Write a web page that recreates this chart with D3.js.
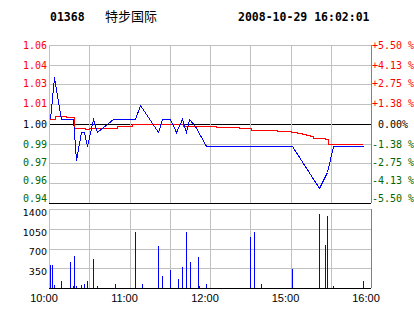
<!DOCTYPE html>
<html>
<head>
<meta charset="utf-8">
<script src="https://cdn.jsdelivr.net/npm/d3@7"></script>
<style>
  body { margin: 0; background: #fff; }
  svg text { white-space: pre; }
</style>
</head>
<body>
<div id="chartarea"></div>
<script>
// header
const stockCode = '01368';
const stockName = '特步国际';
const stamp = '2008-10-29 16:02:01';

// axes
const prevClose = 1.00;
const priceLabels = ['1.06', '1.04', '1.03', '1.01', '1.00', '0.99', '0.97', '0.96', '0.94'];
const pctLabels = ['+5.50 %', '+4.13 %', '+2.75 %', '+1.38 %', ' 0.00%', '-1.38 %', '-2.75 %', '-4.13 %', '-5.50 %'];
const volTicks = [1400, 1050, 700, 350];
const timeTicks = [0, 60, 120, 180, 240];
const timeLabels = ['10:00', '11:00', '12:00', '15:00', '16:00'];

// price line (minutes from 10:00, trading time)
const priceMin = [1, 4, 9, 18, 20, 24, 26, 28, 33, 36, 48, 64, 68, 81, 84, 90, 95, 99, 102, 104, 109, 117, 181, 201, 207, 212, 234];
const priceVal = [1.0033, 1.0325, 1.0035, 1.0035, 0.975, 0.9946, 0.9946, 0.9847, 1.0033, 0.9944, 1.0033, 1.0033, 1.013, 0.9944, 1.0033, 1.0033, 0.9944, 1.0033, 0.9944, 1.0033, 0.9988, 0.9847, 0.9847, 0.9553, 0.9668, 0.9847, 0.9847];

// average price line
const avgMin = [1, 5, 13, 19, 27, 30, 51, 62, 100, 125, 142, 151, 170, 181, 185, 189, 192, 195, 197, 202, 206, 208, 234];
const avgVal = [1.0033, 1.0056, 1.0049, 0.997, 0.9963, 0.9974, 0.9984, 0.9997, 0.9988, 0.9979, 0.997, 0.9956, 0.9949, 0.9942, 0.9935, 0.9928, 0.9921, 0.9913, 0.9905, 0.99, 0.9894, 0.9861, 0.9861];

// volume bars
const volMin = [1, 2, 4, 9, 16, 18, 19, 20, 24, 26, 28, 33, 36, 49, 64, 69, 81, 84, 90, 96, 99, 102, 105, 111, 112, 117, 150, 153, 158, 181, 201, 206, 207, 212, 234];
const volVal = [413, 413, 58, 117, 466, 41, 572, 41, 58, 76, 129, 519, 41, 76, 998, 76, 750, 218, 324, 165, 378, 998, 466, 555, 41, 76, 909, 998, 76, 342, 1318, 767, 1283, 41, 129];

const W = 414, H = 314;
const left = 49, right = 371;
const mainTop = 45, mainBottom = 203;
const volTop = 209, volBottom = 288;
const red = '#ff0000', blue = '#0000ff', green = '#006600', grid = '#c0c0c0';
// labels drift upward towards the bottom of the price panel
const labelNudge = [0, 0, -1, -1.5, 0, 0, -1, -3, -5.5];

const svg = d3.select('#chartarea')
  .append('svg')
    .attr('width', W)
    .attr('height', H)
    .style('display', 'block');

svg.append('rect').attr('width', W).attr('height', H).attr('fill', '#fff');

const x = d3.scaleLinear().domain([0, 240]).range([left, right]);
const y = d3.scaleLinear().domain([prevClose * 0.945, prevClose * 1.055]).range([mainBottom, mainTop]);
const yv = d3.scaleLinear().domain([0, 1400]).range([volBottom, volTop]);

const px = v => Math.round(v) + 0.5;
const gridTimes = d3.range(0, 241, 30);
const levels = d3.range(4, -5, -1).map(k => prevClose * (1 + k * 0.01375));

// header
const head = svg.append('g').attr('font-family', 'DejaVu Sans Mono').attr('font-weight', 'bold').attr('font-size', '11.5px');
head.append('text').attr('x', 50).attr('y', 21).text(stockCode);
head.append('text').attr('x', 238).attr('y', 21).text(stamp);
svg.append('text')
  .attr('x', 105).attr('y', 21)
  .attr('font-family', 'Noto Sans CJK SC').attr('font-size', '13px')
  .text(stockName);

// main grid
const g = svg.append('g').attr('shape-rendering', 'crispEdges');
g.selectAll('.hgrid')
  .data(levels)
  .enter().append('line')
    .attr('x1', left).attr('x2', right)
    .attr('y1', d => px(y(d))).attr('y2', d => px(y(d)))
    .attr('stroke', (d, i) => i === 4 || i === 8 ? '#000' : grid);
g.selectAll('.vgrid')
  .data(gridTimes)
  .enter().append('line')
    .attr('x1', d => px(x(d))).attr('x2', d => px(x(d)))
    .attr('y1', mainTop).attr('y2', mainBottom)
    .attr('stroke', (d, i) => i === 8 ? '#808080' : grid);

// volume grid
g.selectAll('.vhgrid')
  .data([1400, 1050, 700, 350, 0])
  .enter().append('line')
    .attr('x1', left).attr('x2', right)
    .attr('y1', d => px(yv(d))).attr('y2', d => px(yv(d)))
    .attr('stroke', d => d === 0 ? '#000' : grid);
g.selectAll('.vvgrid')
  .data(gridTimes)
  .enter().append('line')
    .attr('x1', d => px(x(d))).attr('x2', d => px(x(d)))
    .attr('y1', volTop).attr('y2', volBottom)
    .attr('stroke', (d, i) => i === 8 ? '#808080' : grid);

// price labels
const lab = svg.append('g').attr('font-family', 'DejaVu Sans Mono').attr('font-size', '10px');
lab.selectAll('.pl')
  .data(priceLabels)
  .enter().append('text')
    .attr('x', 47)
    .attr('y', (d, i) => px(y(levels[i])) + labelNudge[i])
    .attr('dy', '0.36em')
    .attr('text-anchor', 'end')
    .attr('fill', (d, i) => i < 4 ? red : i === 4 ? '#000' : green)
    .text(d => d);
lab.selectAll('.rl')
  .data(pctLabels)
  .enter().append('text')
    .attr('x', 372)
    .attr('y', (d, i) => px(y(levels[i])) + labelNudge[i])
    .attr('dy', '0.36em')
    .attr('fill', (d, i) => i < 4 ? red : i === 4 ? '#000' : green)
    .text(d => d);

// volume labels
svg.append('g')
  .attr('font-family', 'DejaVu Sans').attr('font-size', '9.5px')
  .selectAll('text')
  .data(volTicks)
  .enter().append('text')
    .attr('x', 47)
    .attr('y', d => yv(d) + 3.5)
    .attr('dy', '0.36em')
    .attr('text-anchor', 'end')
    .text(d => d);

// time labels
svg.append('g')
  .attr('font-family', 'Liberation Sans').attr('font-size', '11px')
  .selectAll('text')
  .data(timeTicks)
  .enter().append('text')
    .attr('x', d => x(d) - 5)
    .attr('y', 302)
    .attr('text-anchor', 'middle')
    .text((d, i) => timeLabels[i]);

// volume bars
svg.append('g').attr('shape-rendering', 'crispEdges')
  .selectAll('rect')
  .data(volMin)
  .enter().append('rect')
    .attr('x', d => Math.round(x(d)))
    .attr('y', (d, i) => Math.round(yv(volVal[i])))
    .attr('width', 1)
    .attr('height', (d, i) => volBottom - Math.round(yv(volVal[i])))
    .attr('fill', blue);

// average line
const avgLine = d3.line()
  .x(d => x(d[0]))
  .y(d => px(y(d[1])))
  .curve(d3.curveStepAfter);
svg.append('path')
  .datum(avgMin.map((m, i) => [m, avgVal[i]]))
  .attr('d', avgLine)
  .attr('fill', 'none')
  .attr('stroke', red)
  .attr('shape-rendering', 'crispEdges');

// price line
const priceLine = d3.line()
  .x(d => Math.round(x(d[0])) + 0.5)
  .y(d => px(y(d[1])));
svg.append('path')
  .datum(priceMin.map((m, i) => [m, priceVal[i]]))
  .attr('d', priceLine)
  .attr('fill', 'none')
  .attr('stroke', blue)
  .attr('shape-rendering', 'crispEdges');
</script>
</body>
</html>
